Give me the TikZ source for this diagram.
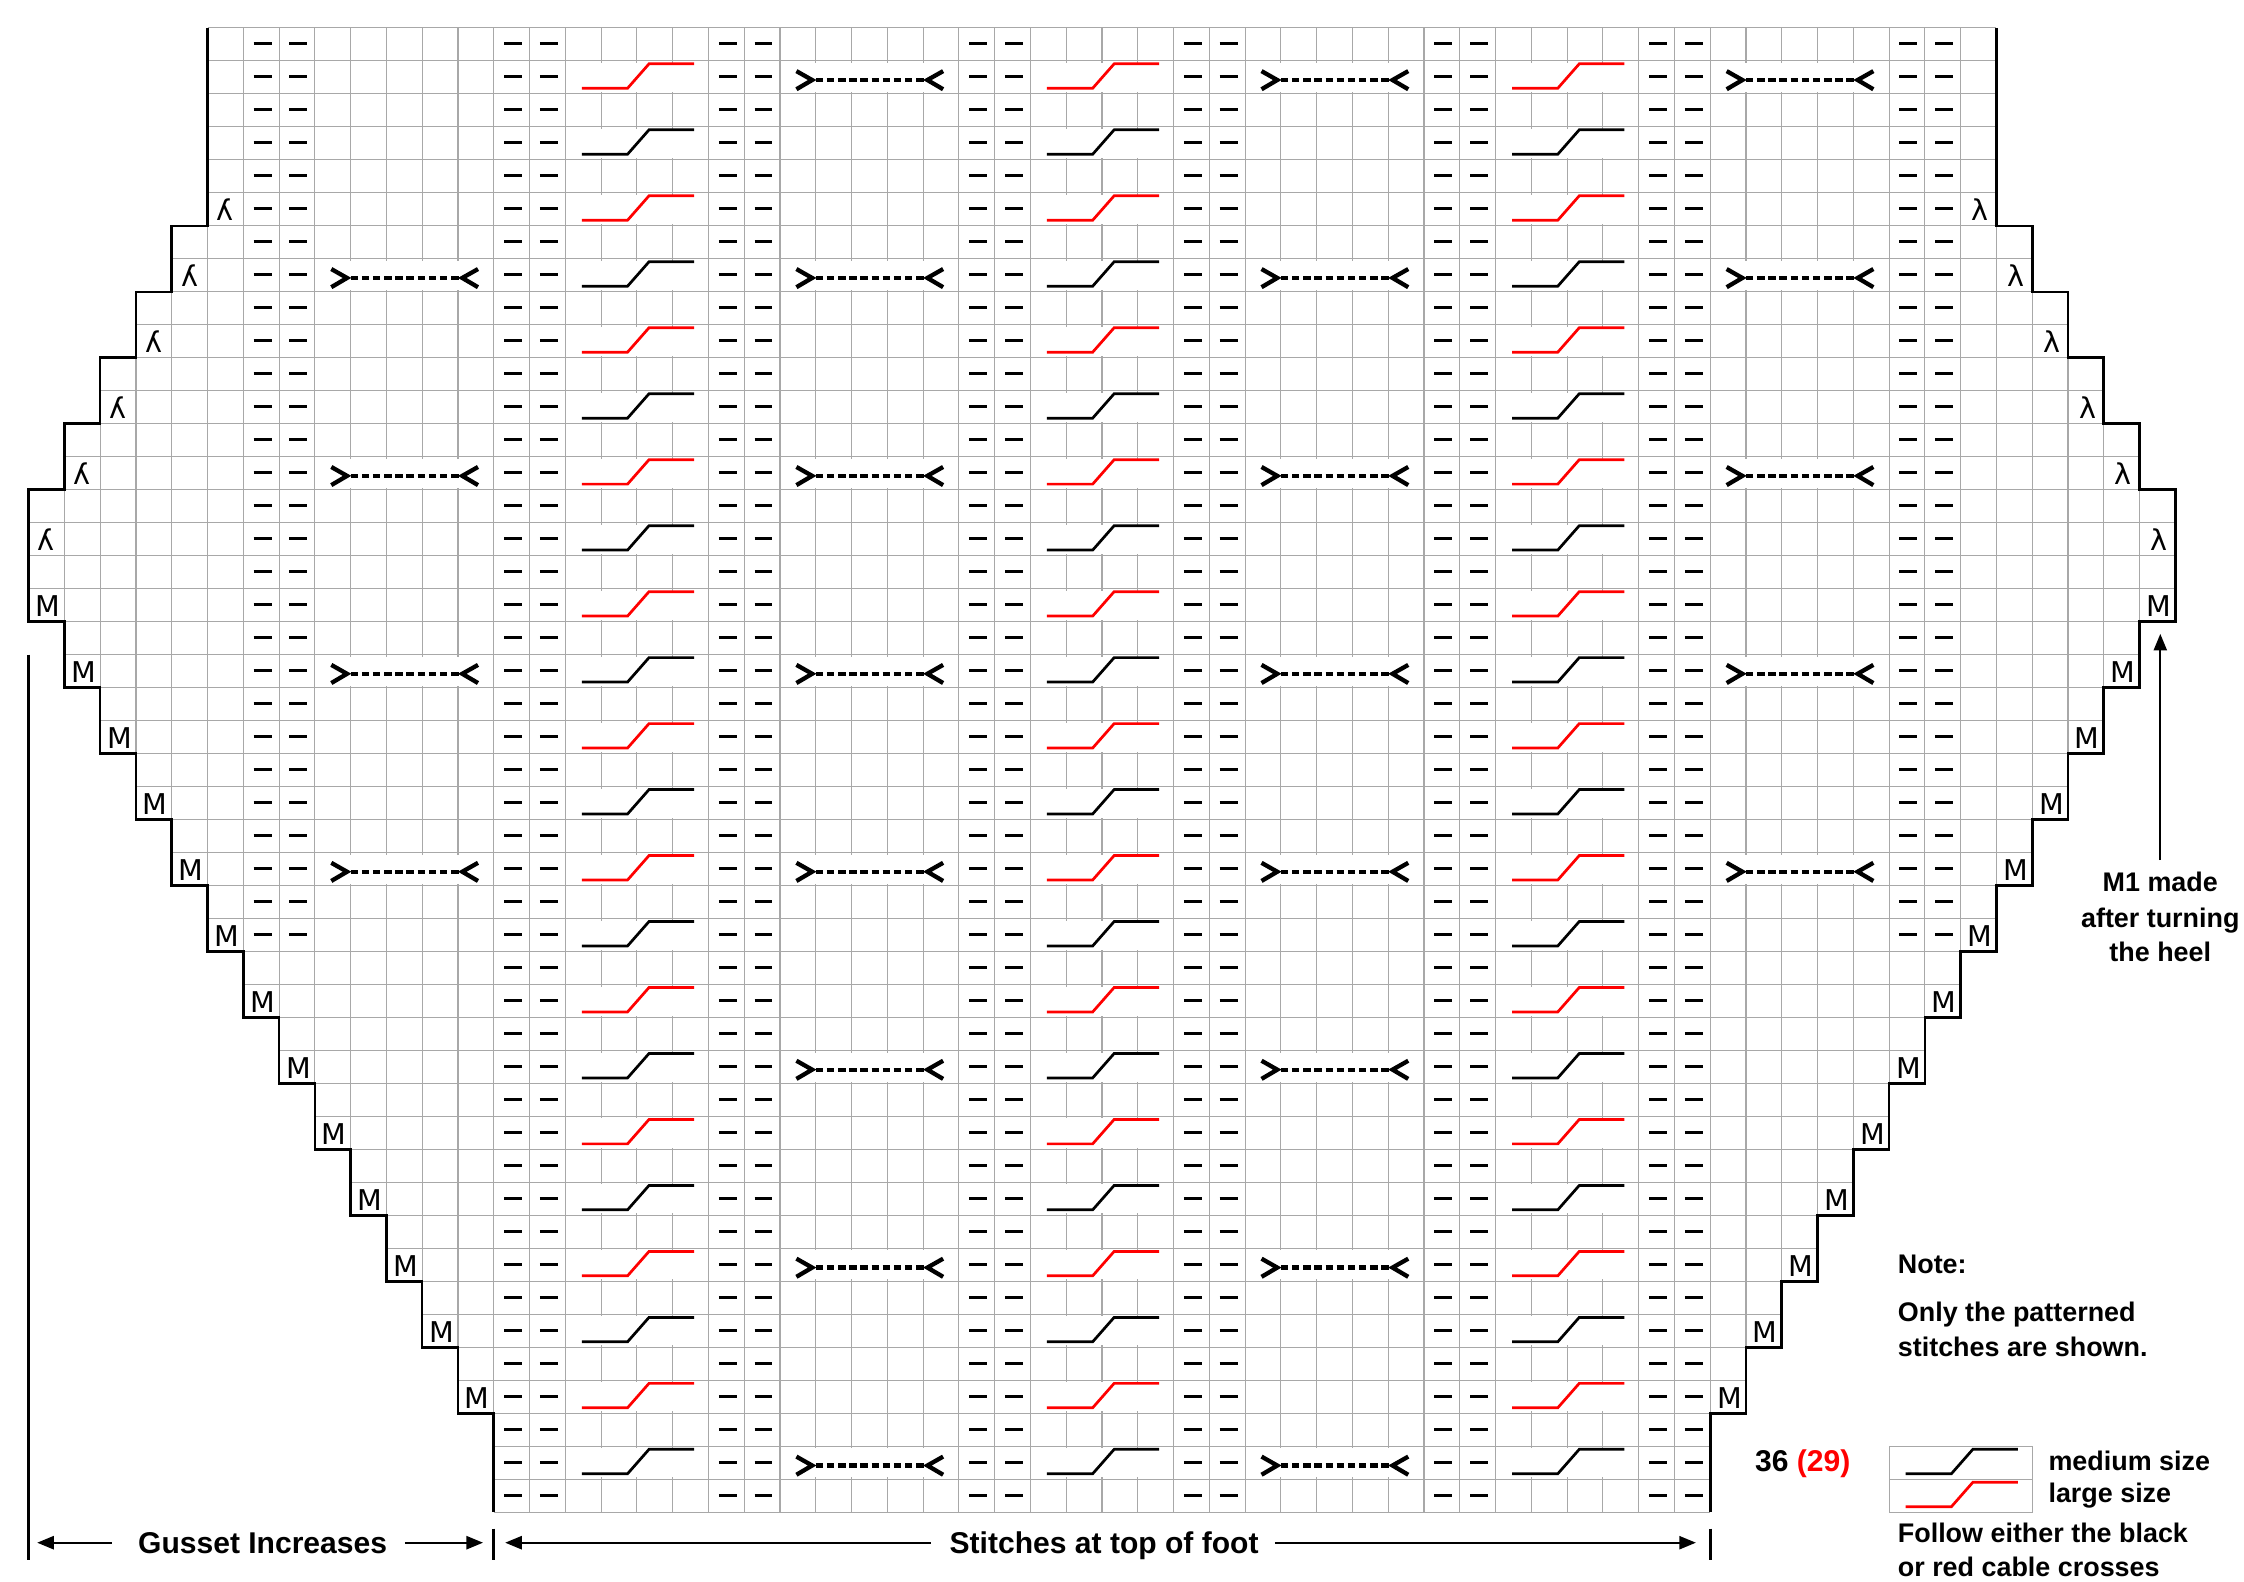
\documentclass[tikz,border=0pt]{standalone}
\usepackage{fontspec}
\setmainfont{Liberation Sans}
\newfontfamily\symfont{DejaVu Sans}
\usetikzlibrary{arrows.meta}
\definecolor{gridgray}{HTML}{A8A8A8}
\definecolor{cablered}{HTML}{FF0000}

\begin{document}
\begin{tikzpicture}[
      x=12.5pt, y=-11.525pt,
      every node/.style={inner sep=0pt},
      lbl/.style={font=\bfseries\fontsize{9.4}{11}\selectfont},
      biglbl/.style={font=\bfseries\fontsize{10.5}{12}\selectfont},
      mstitch/.style={font=\symfont\fontsize{10}{12}\selectfont},
      gridline/.style={draw=gridgray, line width=0.4pt},
      edge/.style={line width=0.9pt, line join=miter},
      purl/.style={line width=0.95pt},
      lace/.style={line width=1.5pt},
      cable/.style={line width=0.95pt},
      dimarrow/.style={-{Triangle[length=5.8pt,width=4.6pt]}, line width=0.7pt},
    ]
    \useasboundingbox (-0.8,-0.846) rectangle (61.92,47.093);

    % grid, row by row
    \foreach \r in {0,...,44}{
      \pgfmathtruncatemacro\lft{\r<6 ? 5 : (\r<14 ? 5-floor((\r-4)/2) : (\r<18 ? 0 : (\r<42 ? floor(\r/2)-8 : 13)))}
      \pgfmathtruncatemacro\rgt{60-\lft}
      \draw[gridline] (\lft,\r) -- (\rgt,\r) (\lft,\r+1) -- (\rgt,\r+1);
      \foreach \c in {\lft,...,\rgt} \draw[gridline] (\c,\r) -- (\c,\r+1);
    }

    % lace crossings
    \foreach \c/\rows in {8/{7,13,19,25}, 21/{1,7,13,19,25,31,37,43},
                          34/{1,7,13,19,25,31,37,43}, 47/{1,7,13,19,25}}{
      \foreach \r in \rows {
        \fill[white] (\c+0.04,\r+0.06) rectangle (\c+4.96,\r+0.94);
        \draw[lace] (\c+0.46,\r+0.31) -- (\c+0.9,\r+0.58) -- (\c+0.46,\r+0.86);
        \draw[lace] (\c+4.56,\r+0.31) -- (\c+4.12,\r+0.58) -- (\c+4.56,\r+0.86);
        \draw[lace, dash pattern=on 2.6pt off 1.3pt]
          (\c+1.0,\r+0.58) -- (\c+4.05,\r+0.58);
      }
    }

    % cable crosses
    \foreach \c in {15,28,41}{
      \foreach \r in {1,5,...,41}{
        \fill[white] (\c+0.04,\r+0.06) rectangle (\c+3.96,\r+0.94);
        \draw[cable, cablered] (\c+0.46,\r+0.83) -- (\c+1.74,\r+0.83)
          -- (\c+2.34,\r+0.09) -- (\c+3.6,\r+0.09);
      }
      \foreach \r in {3,7,...,43}{
        \fill[white] (\c+0.04,\r+0.06) rectangle (\c+3.96,\r+0.94);
        \draw[cable] (\c+0.46,\r+0.83) -- (\c+1.74,\r+0.83)
          -- (\c+2.34,\r+0.09) -- (\c+3.6,\r+0.09);
      }
    }

    % purls
    \foreach \c in {13,14,19,20,26,27,32,33,39,40,45,46}
      \foreach \r in {0,...,44}
        \draw[purl] (\c+0.29,\r+0.48) -- (\c+0.79,\r+0.48);
    \foreach \c in {6,7,52,53}
      \foreach \r in {0,...,27}
        \draw[purl] (\c+0.29,\r+0.48) -- (\c+0.79,\r+0.48);

    % increases
    \foreach \k in {0,...,5}{
      \node[mstitch] (ll-\k) at (5-\k+0.5,5+2*\k+0.5) {\reflectbox{λ}};
      \node[mstitch] (lr-\k) at (54+\k+0.55,5+2*\k+0.5) {λ};
    }
    \foreach \k in {0,...,12}{
      \node[mstitch] (ml-\k) at (\k+0.54,17+2*\k+0.53) {M};
      \node[mstitch] (mr-\k) at (59-\k+0.54,17+2*\k+0.53) {M};
    }

    % gusset edges
    \draw[edge] (5,0) -- (5,6) -- (4,6) -- (4,8) -- (3,8) -- (3,10) -- (2,10)
      -- (2,12) -- (1,12) -- (1,14) -- (0,14) -- (0,18)
      \foreach \k in {1,...,12}{ -- (\k,16+2*\k) -- (\k,18+2*\k) }
      -- (13,42) -- (13,45);
    \draw[edge] (55,0) -- (55,6) -- (56,6) -- (56,8) -- (57,8) -- (57,10) -- (58,10)
      -- (58,12) -- (59,12) -- (59,14) -- (60,14) -- (60,18)
      \foreach \k in {1,...,12}{ -- (60-\k,16+2*\k) -- (60-\k,18+2*\k) }
      -- (47,42) -- (47,45);
    \draw[edge] (0,19) -- (0,46.44);
    \draw[edge] (13,45.49) -- (13,46.44);
    \draw[edge] (47,45.49) -- (47,46.44);

    % bottom labels
    \node[biglbl, anchor=base] (gus) at (6.54,46.25) {Gusset Increases};
    \node[biglbl, anchor=base] (foot) at (30.06,46.25) {Stitches at top of foot};
    \coordinate (gusL) at (0.24,45.92);
    \coordinate (gusR) at (12.7,45.92);
    \coordinate (footL) at (13.32,45.92);
    \coordinate (footR) at (46.6,45.92);
    \draw[dimarrow, shorten <=9pt] (gus.west |- gusL) -- (gusL);
    \draw[dimarrow, shorten <=6pt] (gus.east |- gusR) -- (gusR);
    \draw[dimarrow, shorten <=6.5pt] (foot.west |- footL) -- (footL);
    \draw[dimarrow, shorten <=5.5pt] (foot.east |- footR) -- (footR);

    % heel note
    \node[lbl, anchor=base] (heel1) at (59.58,26.18) {M1 made};
    \node[lbl, anchor=base] (heel2) at (59.58,27.26) {after turning};
    \node[lbl, anchor=base] (heel3) at (59.58,28.3) {the heel};
    \coordinate (mtip) at (59.56,18.37);
    \draw[dimarrow, shorten <=4pt] (heel1.north) -- (heel1.north |- mtip);

    % notes and key
    \node[lbl, anchor=base west] (note) at (52.23,37.75) {Note:};
    \node[lbl, anchor=base west] (only1) at (52.23,39.2) {Only the patterned};
    \node[lbl, anchor=base west] (only2) at (52.23,40.27) {stitches are shown.};
    \node[biglbl, anchor=base west] (cnt) at (48.24,43.75) {36 \textcolor{cablered}{(29)}};

    \draw[gridline] (52,43) rectangle (56,45) (52,44) -- (56,44);
    \draw[cable] (52.46,43.83) -- (53.74,43.83) -- (54.34,43.09) -- (55.6,43.09);
    \draw[cable, cablered] (52.46,44.83) -- (53.74,44.83) -- (54.34,44.09) -- (55.6,44.09);
    \node[lbl, anchor=base west] (med) at (56.44,43.72) {medium size};
    \node[lbl, anchor=base west] (lrg) at (56.44,44.71) {large size};
    \node[lbl, anchor=base west] (foll1) at (52.23,45.9) {Follow either the black};
    \node[lbl, anchor=base west] (foll2) at (52.23,46.95) {or red cable crosses};
  \end{tikzpicture}
\end{document}
